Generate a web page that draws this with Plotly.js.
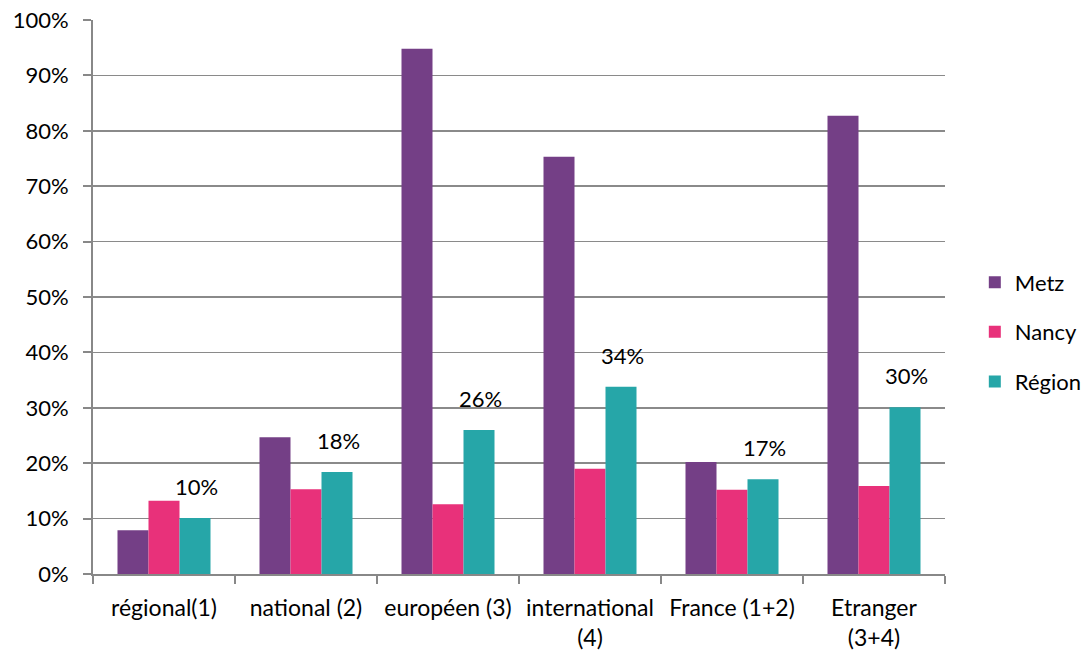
<!DOCTYPE html>
<html>
<head>
<meta charset="utf-8">
<script src="https://cdn.plot.ly/plotly-3.0.1.min.js"></script>
<style>html,body{margin:0;padding:0;background:#fff;}#chart{width:1090px;height:657px;}</style>
</head>
<body>
<div id="chart"></div>
<script>
var categories = ["régional(1)", "national (2)", "européen (3)", "international<br>(4)", "France (1+2)", "Etranger<br>(3+4)"];
var metz   = [7.9, 24.7, 94.8, 75.3, 20.2, 82.7];
var nancy  = [13.2, 15.3, 12.6, 19.0, 15.2, 15.9];
var region = [10.1, 18.4, 26.0, 33.8, 17.1, 30.1];
var regionLabels = ["10%", "18%", "26%", "34%", "17%", "30%"];
var seriesNames = ["Metz", "Nancy", "Région"];
var colors = ["#743F86", "#E8317A", "#26A6A8"];

var font = "Lato, 'Open Sans', sans-serif";
var data = [metz, nancy, region].map(function(v, i){
  return {type:"bar", x:categories, y:v, name:seriesNames[i], legendgroup:"g"+i,
          marker:{color:colors[i], line:{width:0}}, hoverinfo:"skip"};
});
var annotations = categories.map(function(c, i){
  return {x:c, y:region[i], xref:"x", yref:"y", text:regionLabels[i], showarrow:false,
          yanchor:"bottom", xshift:32, yshift:16, font:{family:font, size:22, color:"#000"}};
});
var layout = {
  width:1090, height:657,
  margin:{l:93, r:145, t:20, b:83, autoexpand:false},
  paper_bgcolor:"#fff", plot_bgcolor:"#fff",
  font:{family:font, size:22, color:"#000"},
  barmode:"group", bargap:0.345, bargroupgap:0,
  xaxis:{type:"category", range:[-0.5,5.5], tickson:"boundaries", ticks:"outside", ticklen:8,
         tickcolor:"#888888", tickwidth:2, showline:true, linecolor:"#888888", linewidth:2,
         showgrid:false, tickfont:{family:font, size:23}, ticklabelstandoff:12, automargin:false},
  yaxis:{range:[0,100], dtick:10, ticksuffix:"%", ticks:"outside", ticklen:8, tickcolor:"#888888",
         tickwidth:2, showline:true, linecolor:"#888888", linewidth:2, showgrid:true,
         gridcolor:"#8a8a8a", gridwidth:1.6, zeroline:false, tickfont:{family:font, size:22},
         ticklabelstandoff:10, automargin:false},
  legend:{x:1.035, y:0.437, xanchor:"left", yanchor:"middle", traceorder:"grouped",
          tracegroupgap:18, font:{family:font, size:22}, bgcolor:"rgba(0,0,0,0)"},
  annotations:annotations,
  showlegend:true
};
Plotly.newPlot("chart", data, layout, {staticPlot:true, displayModeBar:false});
</script>
</body>
</html>
